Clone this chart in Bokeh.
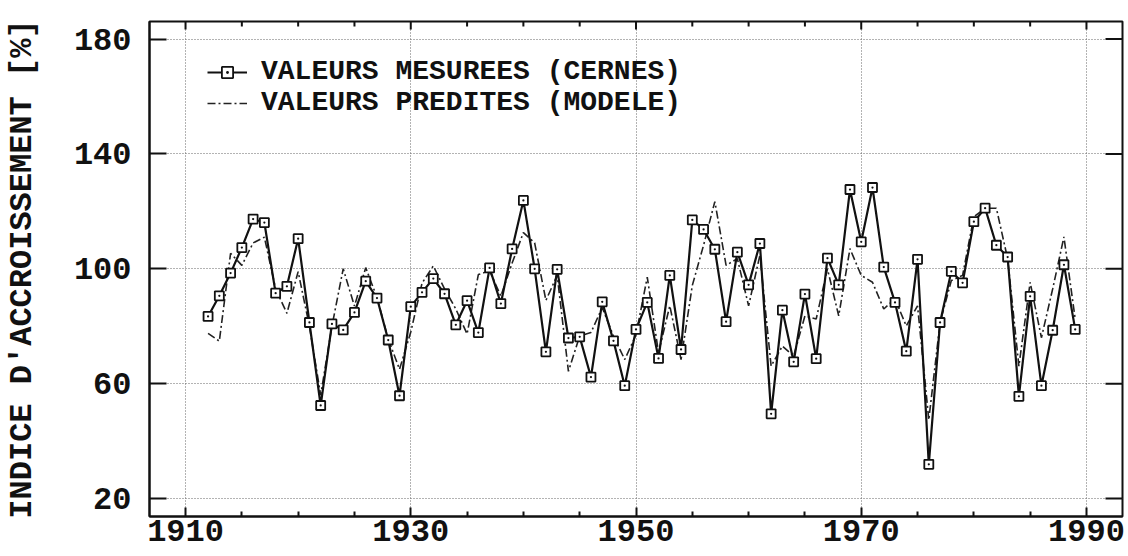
import math
from bokeh.plotting import figure
from bokeh.models import FixedTicker, Legend, LegendItem, Range1d
from bokeh.embed import file_html
from bokeh.resources import INLINE

years = list(range(1912, 1990))
measured = [83.4, 90.6, 98.5, 107.4, 117.3, 116.1, 91.5, 93.9, 110.5, 81.3,
            52.4, 80.8, 78.7, 84.8, 95.7, 89.8, 75.2, 55.8, 86.8, 91.8,
            96.6, 91.3, 80.5, 88.9, 77.8, 100.3, 87.9, 106.9, 123.8, 100.0,
            71.1, 99.8, 75.9, 76.3, 62.3, 88.5, 74.9, 59.3, 78.9, 88.3,
            68.8, 97.7, 71.9, 117.0, 113.7, 106.8, 81.6, 105.8, 94.4, 108.8,
            49.5, 85.6, 67.6, 91.2, 68.7, 103.7, 94.4, 127.6, 109.4, 128.3,
            100.6, 88.3, 71.3, 103.3, 31.9, 81.3, 99.1, 95.1, 116.4, 121.1,
            108.2, 104.1, 55.6, 90.4, 59.3, 78.6, 101.4, 78.9]
predicted = [77.5, 74.8, 105.4, 101.2, 109.0, 111.0, 93.0, 84.5, 99.0, 80.0,
             56.0, 80.0, 100.0, 87.0, 100.4, 90.0, 75.5, 65.0, 78.0, 95.0,
             101.0, 93.0, 86.0, 77.3, 98.0, 99.3, 90.5, 102.0, 112.6, 109.0,
             89.0, 97.7, 64.3, 76.6, 77.8, 86.5, 76.6, 68.4, 77.0, 97.1,
             70.8, 87.1, 68.4, 94.2, 108.2, 123.4, 101.2, 103.5, 87.1, 104.7,
             66.1, 73.1, 69.6, 83.6, 82.5, 100.0, 83.6, 107.0, 97.7, 95.3,
             86.0, 89.5, 80.1, 87.1, 47.4, 81.3, 95.9, 97.7, 118.1, 121.1,
             121.1, 103.5, 66.1, 95.3, 76.0, 93.0, 111.1, 82.5]

x_ticks = [1910, 1930, 1950, 1970, 1990]
x_minor = [1915, 1920, 1925, 1935, 1940, 1945, 1955, 1960, 1965,
           1975, 1980, 1985]
y_ticks = [20, 60, 100, 140, 180]
legend_labels = ["VALEURS MESUREES (CERNES)", "VALEURS PREDITES (MODELE)"]
y_label = "INDICE D'ACCROISSEMENT [%]"

x_min, x_max = 1906.8, 1993.2
y_min, y_max = 13.75, 186.1

FONT = "Liberation Mono"
INK = "#111111"

p = figure(width=1128, height=556, output_backend="svg", toolbar_location=None,
           x_range=Range1d(x_min, x_max), y_range=Range1d(y_min, y_max),
           min_border_left=146, min_border_right=6, min_border_top=21,
           min_border_bottom=40)

p.outline_line_color = INK
p.outline_line_width = 2
p.background_fill_color = "white"
p.border_fill_color = "white"

for g in (p.xgrid[0], p.ygrid[0]):
    g.grid_line_color = "#666666"
    g.grid_line_dash = "1 2"
    g.grid_line_width = 1
p.xgrid.ticker = FixedTicker(ticks=x_ticks)
p.ygrid.ticker = FixedTicker(ticks=y_ticks)


def style_axis(ax, major_in, minor_in):
    ax.axis_line_color = INK
    ax.axis_line_width = 2
    ax.major_tick_in = major_in
    ax.major_tick_out = 0
    ax.major_tick_line_color = INK
    ax.major_tick_line_width = 2
    if minor_in:
        ax.minor_tick_in = minor_in
        ax.minor_tick_out = 0
        ax.minor_tick_line_color = INK
        ax.minor_tick_line_width = 2
    else:
        ax.minor_tick_line_color = None
    ax.major_label_text_font = FONT
    ax.major_label_text_font_style = "bold"
    ax.major_label_text_font_size = "32px"
    ax.major_label_text_color = INK


xb = p.xaxis[0]
xb.ticker = FixedTicker(ticks=x_ticks, minor_ticks=x_minor)
style_axis(xb, 9, 5)
xb.major_label_standoff = 3

yl = p.yaxis[0]
yl.ticker = FixedTicker(ticks=y_ticks)
style_axis(yl, 17, 0)
yl.major_label_standoff = 18
yl.axis_label = y_label
yl.axis_label_text_font = FONT
yl.axis_label_text_font_style = "bold"
yl.axis_label_text_font_size = "32px"
yl.axis_label_text_color = INK
yl.axis_label_standoff = 30

# inward ticks on the top and right edges of the frame (clipped to the frame)
p.scatter(x_ticks, [y_max] * len(x_ticks), marker="dash", angle=math.pi / 2,
          size=16, line_color=INK, line_width=2)
p.scatter(x_minor, [y_max] * len(x_minor), marker="dash", angle=math.pi / 2,
          size=10, line_color=INK, line_width=2)
p.scatter([x_max] * len(y_ticks), y_ticks, marker="dash", angle=0,
          size=34, line_color=INK, line_width=2)

r2 = p.line(years, predicted, line_color="#222222", line_width=1.6,
            line_dash="8 3 2 3")
r1 = p.line(years, measured, line_color=INK, line_width=2.2)
r1m = p.scatter(years, measured, marker="square_dot", size=9,
                fill_color="white", line_color=INK, line_width=1.8)

legend = Legend(items=[LegendItem(label=legend_labels[0], renderers=[r1, r1m]),
                       LegendItem(label=legend_labels[1], renderers=[r2])],
                location=(58, 398))
legend.glyph_width = 40
legend.glyph_height = 28
legend.label_height = 28
legend.label_standoff = 14
legend.spacing = 0
legend.padding = 0
legend.margin = 0
legend.border_line_color = None
legend.background_fill_alpha = 0
legend.label_text_font = FONT
legend.label_text_font_style = "bold"
legend.label_text_font_size = "28px"
legend.label_text_color = INK
p.add_layout(legend)

open("out.html", "w").write(file_html(p, INLINE))
